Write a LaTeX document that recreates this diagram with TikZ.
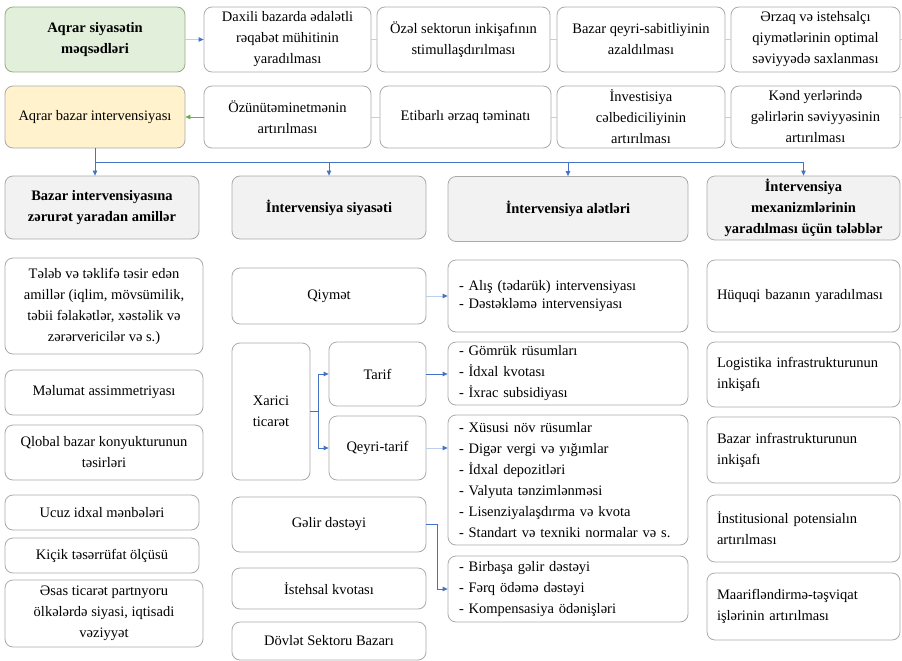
\documentclass[tikz,border=0pt]{standalone}
\usepackage{fontspec}
\setmainfont{Liberation Serif}
\usetikzlibrary{arrows.meta}
\definecolor{linkblue}{RGB}{68,114,196}
\definecolor{paleblue}{RGB}{190,206,235}
\definecolor{boxgray}{RGB}{170,170,170}
\definecolor{aimgreen}{RGB}{226,239,218}
\definecolor{aimedge}{RGB}{150,175,130}
\definecolor{intyellow}{RGB}{255,242,204}
\definecolor{headgray}{RGB}{242,242,242}
\definecolor{arrowgreen}{RGB}{112,173,71}
\begin{document}
\begin{tikzpicture}[x=1pt,y=-1pt,
    box/.style={draw=boxgray,line width=0.8pt,rounded corners=8pt,align=center,inner sep=0pt,
      font=\fontsize{14.5}{21}\selectfont},
    head/.style={box,fill=headgray,font=\fontsize{14.5}{21}\selectfont\bfseries},
    list/.style={box,align=left,inner xsep=11pt},
    link/.style={draw=linkblue,line width=0.8pt},
    faint/.style={draw=paleblue,line width=0.8pt},
    tip/.style={-{Triangle[length=5pt,width=4.5pt,color=linkblue]}}]
  \useasboundingbox (0,0) rectangle (902,661);
  % goals and intervention rows
  \node[box,fill=aimgreen,draw=aimedge,font=\fontsize{14.5}{21}\selectfont\bfseries,minimum width=180pt,minimum height=65pt] (aim) at (95,39.5) {Aqrar siyasətin\\məqsədləri};
  \node[box,minimum width=167pt,minimum height=65pt] (g1) at (287.5,39.5) {Daxili bazarda ədalətli\\rəqabət mühitinin\\yaradılması};
  \node[box,minimum width=173pt,minimum height=65pt] (g2) at (463.5,39.5) {Özəl sektorun inkişafının\\stimullaşdırılması};
  \node[box,minimum width=168pt,minimum height=65pt] (g3) at (641,39.5) {Bazar qeyri-sabitliyinin\\azaldılması};
  \node[box,minimum width=169pt,minimum height=65pt] (g4) at (815.5,39.5) {Ərzaq və istehsalçı\\qiymətlərinin optimal\\səviyyədə saxlanması};
  \node[box,fill=intyellow,minimum width=180pt,minimum height=62pt] (int) at (95,117) {Aqrar bazar intervensiyası};
  \node[box,minimum width=167pt,minimum height=62pt] (g5) at (287.5,117) {Özünütəminetmənin\\artırılması};
  \node[box,minimum width=171pt,minimum height=62pt] (g6) at (465.5,117) {Etibarlı ərzaq təminatı};
  \node[box,minimum width=168pt,minimum height=62pt] (g7) at (641,117) {İnvestisiya\\cəlbediciliyinin\\artırılması};
  \node[box,minimum width=169pt,minimum height=62pt] (g8) at (815.5,117) {Kənd yerlərində\\gəlirlərin səviyyəsinin\\artırılması};
  \draw[faint,tip] (aim) -- (g1);
  \draw[faint] (g1) -- (g2);
  \draw[faint] (g2) -- (g3);
  \draw[faint] (g3) -- (g4);
  \draw[faint] (g4.east) -- ++(10,0) |- (g8.east);
  \draw[faint] (g8) -- (g7);
  \draw[faint] (g7) -- (g6);
  \draw[faint] (g6) -- (g5);
  \draw[draw=arrowgreen,line width=0.8pt,-{Triangle[length=5pt,width=4.5pt]}] (g5) -- (int);
  % column heads
  \node[head,minimum width=194pt,minimum height=63pt] (h1) at (102,207.5) {Bazar intervensiyasına\\zərurət yaradan amillər};
  \node[head,minimum width=194pt,minimum height=63pt] (h2) at (329,207.5) {İntervensiya siyasəti};
  \node[head,minimum width=240pt,minimum height=65pt] (h3) at (568,209) {İntervensiya alətləri};
  \node[head,minimum width=193pt,minimum height=64pt] (h4) at (803.5,208) {İntervensiya\\mexanizmlərinin\\yaradılması üçün tələblər};
  \coordinate (bus) at (96,162);
  \draw[link,tip] (int.south) -- (int.south |- h1.north);
  \draw[link] (bus) -- (bus -| h4.north);
  \foreach \h in {h2,h3,h4}
    \draw[link,tip] (bus -| \h.north) -- (\h.north);
  % factors
  \node[box,minimum width=198pt,minimum height=96pt] (f1) at (104,306) {Tələb və təklifə təsir edən\\amillər (iqlim, mövsümilik,\\təbii fəlakətlər, xəstəlik və\\zərərvericilər və s.)};
  \node[box,minimum width=198pt,minimum height=45pt] (f2) at (104,392.5) {Məlumat assimmetriyası};
  \node[box,minimum width=198pt,minimum height=55pt] (f3) at (104,452.5) {Qlobal bazar konyukturunun\\təsirləri};
  \node[box,minimum width=194pt,minimum height=35pt] (f4) at (102,512.5) {Ucuz idxal mənbələri};
  \node[box,minimum width=194pt,minimum height=35pt] (f5) at (102,555.5) {Kiçik təsərrüfat ölçüsü};
  \node[box,minimum width=198pt,minimum height=67pt] (f6) at (104,613.5) {Əsas ticarət partnyoru\\ölkələrdə siyasi, iqtisadi\\vəziyyət};
  % policy
  \node[box,minimum width=194pt,minimum height=56pt] (price) at (329,296) {Qiymət};
  \node[box,minimum width=78pt,minimum height=137pt] (trade) at (271,411.5) {Xarici\\ticarət};
  \node[box,minimum width=97pt,minimum height=64pt] (tariff) at (377.5,374) {Tarif};
  \node[box,minimum width=97pt,minimum height=64pt] (nontariff) at (377.5,448) {Qeyri-tarif};
  \node[box,minimum width=194pt,minimum height=55pt] (income) at (329,524.5) {Gəlir dəstəyi};
  \node[box,minimum width=194pt,minimum height=41pt] (quota) at (329,588.5) {İstehsal kvotası};
  \node[box,minimum width=194pt,minimum height=38pt] (state) at (329,641) {Dövlət Sektoru Bazarı};
  % tools
  \node[list,text width=218pt,minimum height=72pt] (t1) at (568,296) {- Alış (tədarük) intervensiyası\\[-3pt]- Dəstəkləmə intervensiyası};
  \node[list,text width=218pt,minimum height=63pt] (t2) at (568,373.5) {- Gömrük rüsumları\\- İdxal kvotası\\- İxrac subsidiyası};
  \node[list,text width=218pt,minimum height=130pt] (t3) at (568,480) {- Xüsusi növ rüsumlar\\- Digər vergi və yığımlar\\- İdxal depozitləri\\- Valyuta tənzimlənməsi\\- Lisenziyalaşdırma və kvota\\- Standart və texniki normalar və s.};
  \node[list,text width=218pt,minimum height=66pt] (t4) at (568,589) {- Birbaşa gəlir dəstəyi\\- Fərq ödəmə dəstəyi\\- Kompensasiya ödənişləri};
  \draw[faint,tip] (price) -- (t1);
  \draw[link,tip] (trade.east) -- ++(8,0) |- (tariff.west);
  \draw[link,tip] (trade.east) -- ++(8,0) |- (nontariff.west);
  \draw[link,tip] (tariff) -- (tariff -| t2.west);
  \draw[faint,tip] (nontariff) -- (nontariff -| t3.west);
  \draw[link,tip] (income.east) -- ++(11,0) |- (t4.west);
  % requirements
  \node[list,inner xsep=10pt,text width=173pt,minimum height=72pt] (r1) at (803.5,296) {Hüquqi bazanın yaradılması};
  \node[list,inner xsep=10pt,text width=173pt,minimum height=65pt] (r2) at (803.5,374.5) {Logistika infrastrukturunun\\inkişafı};
  \node[list,inner xsep=10pt,text width=173pt,minimum height=66pt] (r3) at (803.5,450) {Bazar infrastrukturunun\\inkişafı};
  \node[list,inner xsep=10pt,text width=173pt,minimum height=67pt] (r4) at (803.5,528.5) {İnstitusional potensialın\\artırılması};
  \node[list,inner xsep=10pt,text width=173pt,minimum height=67pt] (r5) at (803.5,606.5) {Maarifləndirmə-təşviqat\\işlərinin artırılması};
\end{tikzpicture}
\end{document}
